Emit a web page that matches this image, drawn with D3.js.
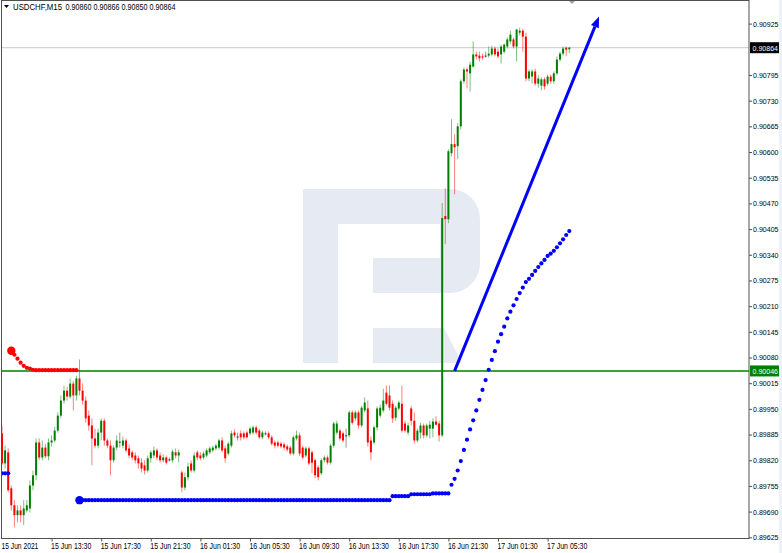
<!DOCTYPE html>
<html><head><meta charset="utf-8">
<script src="https://cdn.jsdelivr.net/npm/d3@7"></script>
<style>
body{margin:0;background:#fff;}
svg{display:block;background:#fff;}
text{font-family:"Liberation Sans",Arial,sans-serif;}
</style>
</head><body>
<svg id="chart" width="782" height="553"></svg>
<script>
// ---------- DATA ----------
const symbol = "USDCHF,M15";
const timeTickBars = [0,16,32,48,64,80,96,112,128,144,160,176];
const timeLabels = ["15 Jun 2021","15 Jun 13:30","15 Jun 17:30","15 Jun 21:30","16 Jun 01:30","16 Jun 05:30","16 Jun 09:30","16 Jun 13:30","16 Jun 17:30","16 Jun 21:30","17 Jun 01:30","17 Jun 05:30"];
// price scale labels visible on the right axis (0.90860 is hidden under the bid label)
const priceTicks = [0.89625,0.89690,0.89755,0.89820,0.89885,0.89950,0.90015,0.90080,0.90145,0.90210,0.90275,0.90340,0.90405,0.90470,0.90535,0.90600,0.90665,0.90730,0.90795,0.90925];

const opens = [0.89888,0.89812,0.89840,0.89749,0.89706,0.89681,0.89693,0.89681,0.89693,0.89698,
0.89756,0.89782,0.89865,0.89827,0.89852,0.89830,0.89865,0.89870,0.89895,0.89933,
0.89971,0.89996,0.89981,0.90014,0.89984,0.90027,0.89996,0.89971,0.89933,0.89908,
0.89875,0.89857,0.89890,0.89920,0.89870,0.89857,0.89820,0.89852,0.89867,0.89857,
0.89870,0.89850,0.89840,0.89832,0.89825,0.89814,0.89807,0.89794,0.89825,0.89832,
0.89845,0.89832,0.89820,0.89827,0.89822,0.89820,0.89840,0.89832,0.89789,0.89751,
0.89777,0.89812,0.89794,0.89840,0.89832,0.89827,0.89832,0.89840,0.89845,0.89850,
0.89852,0.89870,0.89850,0.89837,0.89857,0.89890,0.89880,0.89888,0.89888,0.89890,
0.89888,0.89890,0.89903,0.89895,0.89878,0.89888,0.89888,0.89878,0.89865,0.89865,
0.89862,0.89860,0.89855,0.89852,0.89837,0.89875,0.89883,0.89852,0.89832,0.89850,
0.89840,0.89820,0.89802,0.89787,0.89820,0.89827,0.89814,0.89857,0.89890,0.89895,
0.89888,0.89883,0.89883,0.89941,0.89926,0.89941,0.89908,0.89946,0.89951,0.89870,
0.89865,0.89903,0.89933,0.89946,0.89991,0.89984,0.89963,0.89928,0.89951,0.89963,
0.89913,0.89890,0.89951,0.89920,0.89870,0.89890,0.89908,0.89883,0.89900,0.89900,
0.89918,0.89913,0.89883,0.90438,0.90430,0.90597,0.90620,0.90615,0.90665,0.90779,
0.90809,0.90799,0.90816,0.90847,0.90844,0.90842,0.90844,0.90844,0.90847,0.90862,
0.90854,0.90847,0.90854,0.90867,0.90880,0.90885,0.90867,0.90902,0.90907,0.90892,
0.90786,0.90791,0.90804,0.90773,0.90768,0.90784,0.90773,0.90791,0.90779,0.90799,
0.90834,0.90849,0.90864,0.90860];

const highs = [0.89908,0.89857,0.89850,0.89756,0.89719,0.89706,0.89706,0.89719,0.89719,0.89769,
0.89794,0.89875,0.89875,0.89870,0.89862,0.89875,0.89883,0.89905,0.89941,0.89984,
0.90009,0.90006,0.90027,0.90021,0.90034,0.90075,0.90014,0.89981,0.89946,0.89926,
0.89900,0.89900,0.89926,0.89926,0.89875,0.89870,0.89857,0.89883,0.89890,0.89880,
0.89875,0.89860,0.89845,0.89840,0.89832,0.89825,0.89820,0.89832,0.89845,0.89855,
0.89850,0.89840,0.89835,0.89832,0.89827,0.89847,0.89850,0.89847,0.89794,0.89789,
0.89814,0.89820,0.89840,0.89845,0.89840,0.89842,0.89850,0.89855,0.89857,0.89862,
0.89875,0.89878,0.89857,0.89867,0.89895,0.89898,0.89890,0.89895,0.89893,0.89895,
0.89905,0.89908,0.89908,0.89900,0.89895,0.89893,0.89893,0.89883,0.89870,0.89870,
0.89867,0.89865,0.89860,0.89857,0.89883,0.89895,0.89890,0.89857,0.89855,0.89855,
0.89845,0.89825,0.89807,0.89825,0.89832,0.89832,0.89862,0.89918,0.89920,0.89900,
0.89893,0.89900,0.89946,0.89946,0.89946,0.89946,0.89958,0.89979,0.89971,0.89880,
0.89908,0.89956,0.89961,0.90001,0.90009,0.90009,0.89971,0.89958,0.89971,0.90009,
0.89920,0.89915,0.89958,0.89941,0.89900,0.89915,0.89913,0.89913,0.89920,0.89926,
0.89931,0.89920,0.90471,0.90508,0.90607,0.90683,0.90645,0.90673,0.90784,0.90814,
0.90814,0.90829,0.90880,0.90854,0.90854,0.90849,0.90854,0.90867,0.90869,0.90867,
0.90862,0.90872,0.90874,0.90890,0.90907,0.90890,0.90912,0.90915,0.90912,0.90902,
0.90809,0.90809,0.90811,0.90794,0.90789,0.90789,0.90796,0.90796,0.90804,0.90842,
0.90854,0.90867,0.90867,0.90866];

const lows = [0.89807,0.89799,0.89739,0.89693,0.89650,0.89663,0.89663,0.89656,0.89688,0.89688,
0.89744,0.89769,0.89820,0.89820,0.89825,0.89820,0.89855,0.89865,0.89890,0.89926,
0.89963,0.89971,0.89976,0.89946,0.89971,0.89984,0.89961,0.89915,0.89895,0.89807,
0.89850,0.89850,0.89870,0.89857,0.89850,0.89782,0.89814,0.89845,0.89852,0.89850,
0.89840,0.89825,0.89820,0.89812,0.89799,0.89789,0.89784,0.89789,0.89814,0.89825,
0.89820,0.89814,0.89814,0.89809,0.89817,0.89814,0.89825,0.89814,0.89739,0.89744,
0.89769,0.89789,0.89789,0.89820,0.89820,0.89822,0.89827,0.89835,0.89840,0.89845,
0.89847,0.89840,0.89814,0.89832,0.89852,0.89878,0.89870,0.89870,0.89873,0.89875,
0.89883,0.89885,0.89885,0.89873,0.89873,0.89883,0.89873,0.89857,0.89850,0.89852,
0.89850,0.89845,0.89842,0.89832,0.89832,0.89870,0.89830,0.89822,0.89827,0.89807,
0.89787,0.89774,0.89769,0.89782,0.89814,0.89809,0.89809,0.89852,0.89885,0.89870,
0.89865,0.89852,0.89878,0.89910,0.89920,0.89900,0.89903,0.89941,0.89855,0.89820,
0.89860,0.89895,0.89928,0.89941,0.89958,0.89946,0.89915,0.89920,0.89946,0.89890,
0.89890,0.89883,0.89908,0.89862,0.89865,0.89875,0.89875,0.89878,0.89875,0.89878,
0.89908,0.89867,0.89878,0.90367,0.90420,0.90589,0.90493,0.90582,0.90657,0.90773,
0.90761,0.90753,0.90814,0.90834,0.90829,0.90834,0.90839,0.90839,0.90842,0.90842,
0.90837,0.90824,0.90849,0.90862,0.90874,0.90862,0.90829,0.90895,0.90854,0.90779,
0.90779,0.90773,0.90768,0.90763,0.90756,0.90758,0.90768,0.90773,0.90773,0.90794,
0.90829,0.90844,0.90842,0.90850];

const closes = [0.89812,0.89845,0.89744,0.89706,0.89681,0.89693,0.89681,0.89698,0.89706,0.89756,
0.89782,0.89865,0.89827,0.89852,0.89830,0.89865,0.89870,0.89895,0.89933,0.89971,
0.89996,0.89981,0.90014,0.89984,0.90027,0.89996,0.89971,0.89926,0.89908,0.89875,
0.89857,0.89890,0.89920,0.89870,0.89857,0.89820,0.89852,0.89870,0.89867,0.89870,
0.89845,0.89832,0.89827,0.89820,0.89812,0.89799,0.89794,0.89825,0.89840,0.89845,
0.89827,0.89820,0.89827,0.89814,0.89822,0.89842,0.89832,0.89840,0.89751,0.89777,
0.89804,0.89794,0.89832,0.89827,0.89825,0.89837,0.89845,0.89850,0.89852,0.89857,
0.89870,0.89845,0.89825,0.89862,0.89888,0.89883,0.89880,0.89878,0.89878,0.89878,
0.89900,0.89903,0.89890,0.89878,0.89890,0.89888,0.89878,0.89862,0.89857,0.89857,
0.89855,0.89852,0.89847,0.89837,0.89878,0.89883,0.89837,0.89827,0.89850,0.89812,
0.89814,0.89782,0.89777,0.89820,0.89827,0.89814,0.89857,0.89913,0.89913,0.89875,
0.89870,0.89883,0.89941,0.89915,0.89941,0.89908,0.89953,0.89966,0.89865,0.89840,
0.89903,0.89951,0.89953,0.89971,0.89963,0.89953,0.89926,0.89953,0.89966,0.89895,
0.89895,0.89908,0.89920,0.89870,0.89895,0.89908,0.89883,0.89908,0.89910,0.89918,
0.89910,0.89883,0.90433,0.90430,0.90602,0.90620,0.90612,0.90665,0.90779,0.90809,
0.90804,0.90821,0.90847,0.90842,0.90837,0.90839,0.90844,0.90849,0.90862,0.90847,
0.90842,0.90867,0.90872,0.90885,0.90897,0.90867,0.90910,0.90907,0.90892,0.90786,
0.90804,0.90804,0.90773,0.90786,0.90784,0.90766,0.90791,0.90779,0.90799,0.90834,
0.90849,0.90862,0.90859,0.90864];

// indicator dots (blue) - first short run, then the main run
const blueRun1Start = 0;
const blueRun1 = [0.89787,0.89787,0.89787];
const blueRun2Start = 25;
const blueRun2 = [
0.89719,0.89719,0.89719,0.89719,0.89719,0.89719,0.89719,0.89719,0.89719,0.89719,
0.89719,0.89719,0.89719,0.89719,0.89719,0.89719,0.89719,0.89719,0.89719,0.89719,
0.89719,0.89719,0.89719,0.89719,0.89719,0.89719,0.89719,0.89719,0.89719,0.89719,
0.89719,0.89719,0.89719,0.89719,0.89719,0.89719,0.89719,0.89719,0.89719,0.89719,
0.89719,0.89719,0.89719,0.89719,0.89719,0.89719,0.89719,0.89719,0.89719,0.89719,
0.89719,0.89719,0.89719,0.89719,0.89719,0.89719,0.89719,0.89719,0.89719,0.89719,
0.89719,0.89719,0.89719,0.89719,0.89719,0.89719,0.89719,0.89719,0.89719,0.89719,
0.89719,0.89719,0.89719,0.89719,0.89719,0.89719,0.89719,0.89719,0.89719,0.89719,
0.89719,0.89719,0.89719,0.89719,0.89719,0.89719,0.89719,0.89719,0.89719,0.89719,
0.89719,0.89719,0.89719,0.89719,0.89719,0.89719,0.89719,0.89719,0.89719,0.89719,
0.89719,
0.89729,0.89729,0.89729,0.89729,0.89729,0.89729,
0.89734,0.89734,0.89734,0.89734,0.89734,0.89734,0.89734,
0.89736,0.89736,0.89736,0.89736,0.89736,0.89736,
0.89758,0.89773,0.89794,0.89818,0.89846,0.89872,0.89898,0.89921,0.89946,0.89973,
0.89998,0.90023,0.90049,0.90074,0.90096,0.90120,0.90139,0.90158,0.90179,0.90196,
0.90212,0.90228,0.90243,0.90257,0.90271,0.90279,0.90289,0.90299,0.90309,0.90318,
0.90327,0.90337,0.90343,0.90350,0.90359,0.90369,0.90379,0.90390,0.90400];

// indicator dots (red)
const redRunStart = 3;
const redRun = [0.90097,0.90087,0.90077,0.90067,0.90059,0.90054,0.90052,0.90049,
0.90048,0.90048,0.90048,0.90048,0.90048,0.90048,0.90048,0.90048,0.90048,0.90048,0.90048,0.90048,0.90048,0.90048];

const levelPrice = 0.90046;
const bidPrice = closes[closes.length - 1];
const arrowFrom = {bar: 146, price: 0.90046};
const arrowTo = {bar: 192.6, price: 0.90943};

// ---------- DRAW ----------
const svg = d3.select("#chart");
const W = 782, H = 553;
const plotL = 1.5, plotR = 749, plotT = 0.5, plotB = 538.5;

const x = d3.scaleLinear().domain([0, 183]).range([2, 569.3]);
const y = d3.scaleLinear().domain([0.89625, 0.90925]).range([537.3, 23.6]);
const fmt = d3.format(".5f");

svg.append("rect").attr("width", W).attr("height", H).attr("fill", "#fff");
svg.append("rect").attr("x", 779).attr("y", 0).attr("width", 3).attr("height", H).attr("fill", "#eef2f8");

svg.append("defs").append("clipPath").attr("id", "plotclip")
  .append("rect").attr("x", plotL).attr("y", plotT).attr("width", plotR - plotL).attr("height", plotB - plotT);

// watermark logo
const wm = svg.append("g").attr("fill", "#e6ebf3");
wm.append("path").attr("d",
  "M303,189 H450 A30,30 0 0 1 480,219 V263 A30,30 0 0 1 450,293 H373 V258 H440 V224 H338 V363 H303 Z");
wm.append("path").attr("d", "M373,328 H444 L462,363 H373 Z");

const g = svg.append("g").attr("clip-path", "url(#plotclip)");

// bid line
g.append("line").attr("x1", plotL).attr("x2", plotR)
  .attr("y1", y(bidPrice)).attr("y2", y(bidPrice))
  .attr("stroke", "#c8c8c8").attr("stroke-width", 1);

// candles
const bars = d3.range(opens.length).map(i => ({i, o: opens[i], h: highs[i], l: lows[i], c: closes[i]}));
const colorOf = d => d.c > d.o ? "#008000" : (d.c < d.o ? "#ff0000" : "#303030");

g.append("g").selectAll("line").data(bars).join("line")
  .attr("x1", d => x(d.i)).attr("x2", d => x(d.i))
  .attr("y1", d => y(d.h)).attr("y2", d => y(d.l))
  .attr("stroke", colorOf).attr("stroke-width", 1).attr("stroke-opacity", 0.5);

g.append("g").selectAll("rect").data(bars).join("rect")
  .attr("x", d => x(d.i) - 1).attr("width", 2)
  .attr("y", d => Math.min(y(d.o), y(d.c)))
  .attr("height", d => Math.max(1, Math.abs(y(d.o) - y(d.c))))
  .attr("fill", colorOf);

// green level line
g.append("line").attr("x1", plotL).attr("x2", plotR)
  .attr("y1", y(levelPrice)).attr("y2", y(levelPrice))
  .attr("stroke", "#008000").attr("stroke-width", 1.5);

// dots
function dots(start, vals, color, r, bigR) {
  const dg = g.append("g").attr("fill", color);
  dg.selectAll("circle").data(vals).join("circle")
    .attr("cx", (v, k) => x(start + k)).attr("cy", v => y(v))
    .attr("r", (v, k) => k === 0 && bigR ? bigR : r);
}
dots(blueRun1Start, blueRun1, "#0000ff", 2.1, 0);
dots(blueRun2Start, blueRun2, "#0000ff", 2.1, 4.2);
dots(redRunStart, redRun, "#ff0000", 2.1, 4.2);

// arrow
const ax1 = x(arrowFrom.bar), ay1 = y(arrowFrom.price);
const ax2 = x(arrowTo.bar), ay2 = y(arrowTo.price);
const ang = Math.atan2(ay2 - ay1, ax2 - ax1);
const hl = 11, hw = 4.2;
const bx = ax2 - hl * Math.cos(ang), by = ay2 - hl * Math.sin(ang);
g.append("line").attr("x1", ax1).attr("y1", ay1).attr("x2", bx).attr("y2", by)
  .attr("stroke", "#0000ff").attr("stroke-width", 3);
g.append("path").attr("fill", "#0000ff").attr("d",
  `M${ax2},${ay2} L${bx + hw * Math.sin(ang)},${by - hw * Math.cos(ang)} L${bx - hw * Math.sin(ang)},${by + hw * Math.cos(ang)} Z`);

// frame
svg.append("rect").attr("x", plotL).attr("y", plotT).attr("width", plotR - plotL).attr("height", plotB - plotT)
  .attr("fill", "none").attr("stroke", "#505050").attr("stroke-width", 1);
// chart shift marker
svg.append("path").attr("d", `M${569},1 L${575},1 L${572},4 Z`).attr("fill", "#a0a0a0");

// right axis
const yAxis = d3.axisRight(y).tickValues(priceTicks).tickSize(3).tickPadding(1).tickFormat(fmt);
const ya = svg.append("g").attr("transform", `translate(${plotR},0)`).call(yAxis);
ya.select(".domain").remove();
ya.selectAll(".tick line").attr("stroke", "#505050");
ya.selectAll(".tick text").attr("font-size", 7.5).attr("fill", "#000")
  .attr("font-family", "Liberation Sans, Arial, sans-serif")
  .attr("textLength", 25.5).attr("lengthAdjust", "spacingAndGlyphs");

// bottom axis
const xAxis = d3.axisBottom(x).tickValues(timeTickBars).tickSize(3).tickPadding(1)
  .tickFormat((d, k) => timeLabels[k]);
const xa = svg.append("g").attr("transform", `translate(0,${plotB})`).call(xAxis);
xa.select(".domain").remove();
xa.selectAll(".tick line").attr("stroke", "#505050");
xa.selectAll(".tick").filter(d => d === 0).select("line").remove();
xa.selectAll(".tick text").attr("font-size", 8.5).attr("fill", "#000")
  .attr("text-anchor", "start").attr("dx", -1)
  .attr("font-family", "Liberation Sans, Arial, sans-serif")
  .attr("textLength", (d, k) => timeLabels[k].length * 3.35).attr("lengthAdjust", "spacingAndGlyphs");

// price label boxes
function priceBox(p, fill) {
  const yy = y(p);
  svg.append("rect").attr("x", 750).attr("y", yy - 5.5).attr("width", 29).attr("height", 11).attr("fill", fill);
  svg.append("text").attr("x", 752.5).attr("y", yy + 3).attr("font-size", 7.5).attr("fill", "#fff")
    .attr("textLength", 25.5).attr("lengthAdjust", "spacingAndGlyphs").text(fmt(p));
}
priceBox(bidPrice, "#000");
priceBox(levelPrice, "#008000");

// header
svg.append("rect").attr("x", 2).attr("y", 1).attr("width", 178).attr("height", 11).attr("fill", "#fff");
svg.append("path").attr("d", "M4,5 L9,5 L6.5,8 Z").attr("fill", "#000");
const last = opens.length - 1;
svg.append("text").attr("x", 13).attr("y", 9.5).attr("font-size", 8.5).attr("fill", "#000")
  .attr("textLength", 49).attr("lengthAdjust", "spacingAndGlyphs").text(symbol);
svg.append("text").attr("x", 65.5).attr("y", 9.5).attr("font-size", 8.5).attr("fill", "#000")
  .attr("textLength", 110).attr("lengthAdjust", "spacingAndGlyphs")
  .text([opens[last], highs[last], lows[last], closes[last]].map(fmt).join(" "));
</script>
</body></html>
